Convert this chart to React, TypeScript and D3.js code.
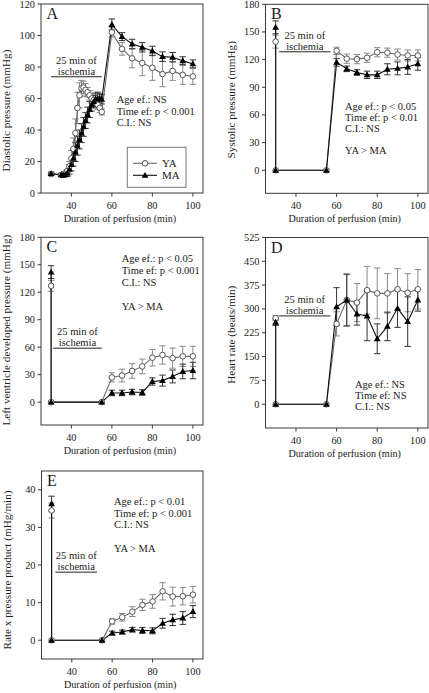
import React from 'react';
import * as d3 from 'd3';

// ---------- data ----------
const timeA = [30, 35, 36, 37, 38, 39, 40, 41, 42, 43, 44, 45, 46, 47, 48, 49, 50, 51, 52, 53, 54, 55, 60, 65, 70, 75, 80, 85, 90, 95, 100];
const diaYA = [12, 11.5, 12, 12.5, 14, 17, 22, 28, 38, 54, 62, 66.5, 67, 65.5, 64, 62, 60, 59, 57.5, 56, 54, 51.5, 102, 91.5, 85.5, 82.5, 79.5, 75.5, 77.5, 75, 74];
const diaYAErr = [1, 1, 1, 1, 1, 3, 5, 7, 9, 10, 8, 5, 4, 4, 3, 3, 3, 3, 3, 3, 3, 2, 3, 4, 6, 8, 8, 8, 6, 6, 5];
const diaMA = [12.3, 11.5, 11.3, 11.6, 12.5, 15, 18, 22, 26, 30, 34, 38, 42, 46, 49.5, 53, 56, 58, 59.5, 60, 60, 59.5, 107, 99.3, 94.6, 92.5, 90.2, 86.6, 86.2, 84, 82];
const diaMAErr = [1, 1, 1, 1, 2, 3, 4, 5, 6, 6, 6, 6, 6, 5, 5, 5, 4, 4, 4, 4, 3, 3, 3.5, 2.5, 3, 3, 3, 3, 3, 2.5, 2.5];

const timeR = [30, 30, 55, 60, 65, 70, 75, 80, 85, 90, 95, 100];
const sysYA = [139.5, 0, 0, 129.5, 121, 120.5, 122, 128, 127.5, 125.5, 124.5, 124.5];
const sysYAErr = [7, 0, 0, 4, 5, 5, 5, 5, 5, 6, 6, 6];
const sysMA = [155, 0, 0, 117, 110, 106, 103.5, 103.5, 109.5, 110.5, 112, 115.5];
const sysMAErr = [7, 0, 0, 4, 3, 3, 4, 4, 6, 7, 8, 7];

const lvdpYA = [127, 0, 0, 27, 29, 34, 39, 48.5, 51.5, 48, 50, 50];
const lvdpYAErr = [6, 0, 0, 5, 7, 8, 8, 9, 10, 11, 11, 11];
const lvdpMA = [142, 0, 0, 10, 10, 11, 10.5, 22.5, 23.5, 28, 33.5, 34.5];
const lvdpMAErr = [7, 0, 0, 3, 3, 3, 3, 4, 6, 7, 8, 9];

const hrYA = [271, 0, 0, 253, 328, 320, 359, 349, 349, 362, 351, 362];
const hrYAErr = [8, 0, 0, 38, 80, 60, 75, 80, 62, 65, 60, 62];
const hrMA = [258, 0, 0, 307, 328, 284, 278, 206, 245, 302, 260, 328];
const hrMAErr = [10, 0, 0, 60, 82, 35, 78, 47, 45, 60, 78, 35];

const rppYA = [34.5, 0, 0, 5, 6.1, 7.6, 9.4, 10.3, 13, 11.6, 11.7, 12.1];
const rppYAErr = [2, 0, 0, 0.7, 1, 1.3, 1.5, 1.8, 2.3, 2.5, 2.3, 2.2];
const rppMA = [36.3, 0, 0, 1.9, 2.2, 2.8, 2.6, 2.5, 4.5, 5.4, 5.9, 7.6];
const rppMAErr = [2, 0, 0, 0.5, 0.5, 0.6, 0.8, 0.8, 1.3, 1.5, 1.7, 1.6];

const xTicks = [40, 60, 80, 100];
const yTicksA = [0, 20, 40, 60, 80, 100, 120];
const yTicksB = [0, 30, 60, 90, 120, 150, 180];
const yTicksC = [0, 30, 60, 90, 120, 150, 180];
const yTicksD = [0, 75, 150, 225, 300, 375, 450, 525];
const yTicksE = [0, 10, 20, 30, 40];

const statsA = ['Age ef.: NS', 'Time ef: p < 0.001', 'C.I.: NS'];
const statsB = ['Age ef.: p < 0.05', 'Time ef: p < 0.01', 'C.I.: NS', '', 'YA > MA'];
const statsC = ['Age ef.: p < 0.05', 'Time ef: p < 0.001', 'C.I.: NS', '', 'YA > MA'];
const statsD = ['Age ef.: NS', 'Time ef: NS', 'C.I.: NS'];
const statsE = ['Age ef.: p < 0.01', 'Time ef: p < 0.001', 'C.I.: NS', '', 'YA > MA'];

const ischemiaText = ['25 min of', 'ischemia'];
const legendLabels = ['YA', 'MA'];

// ---------- styling ----------
const FONT = "'Liberation Serif', 'Times New Roman', Times, serif";
const TXT = '#1a1a1a';
const FRAME = '#3a3a3a';
const YA_LINE = '#6a6a6a';
const YA_ERR = '#8a8a8a';
const MA_LINE = '#111';
const MA_ERR = '#333';

type PanelCfg = {
  letter: string;
  ylabel: string;
  ylabelShift: number;
  left: number; right: number; top: number; bottom: number;
  yDomain: [number, number];
  yTicks: number[];
  time: number[];
  ya: number[]; yaErr: number[];
  ma: number[]; maErr: number[];
  stats: string[];
  statsX: number; statsY: number; statsGap: number;
  isch: [number, number, number];
  legend?: boolean;
};

const triangle = d3.symbol().type(d3.symbolTriangle).size(20)();

function Panel({ c }: { c: PanelCfg }) {
  const x = d3.scaleLinear().domain([25, 105]).range([c.left, c.right]);
  const y = d3.scaleLinear().domain(c.yDomain).range([c.bottom, c.top]);
  const idx = d3.range(c.time.length);
  const lineOf = (vals: number[]) =>
    d3.line<number>().x((i) => x(c.time[i])).y((i) => y(vals[i]))(idx) || '';
  const cx = (c.left + c.right) / 2;
  const cy = (c.top + c.bottom) / 2 + c.ylabelShift;
  const errBars = (vals: number[], errs: number[], color: string) =>
    idx.filter((i) => errs[i] > 0).map((i) => {
      const px = x(c.time[i]);
      const y1 = y(vals[i] + errs[i]);
      const y2 = y(vals[i] - errs[i]);
      return (
        <g key={'e' + i} stroke={color} strokeWidth={1}>
          <line x1={px} x2={px} y1={y1} y2={y2} />
          <line x1={px - 3.2} x2={px + 3.2} y1={y1} y2={y1} />
          <line x1={px - 3.2} x2={px + 3.2} y1={y2} y2={y2} />
        </g>
      );
    });
  const [ix1, ix2, iy] = c.isch;
  const ischX = (x(ix1) + x(ix2)) / 2;
  return (
    <g style={{ fontFamily: FONT }} fill={TXT}>
      <rect x={c.left} y={c.top} width={c.right - c.left} height={c.bottom - c.top} fill="none" stroke={FRAME} strokeWidth={1} />
      {c.yTicks.map((t) => (
        <g key={'y' + t}>
          <line x1={c.left - 3.5} x2={c.left} y1={y(t)} y2={y(t)} stroke={FRAME} />
          <text x={c.left - 6} y={y(t)} dy="0.34em" textAnchor="end" fontSize={10.3}>{t}</text>
        </g>
      ))}
      {xTicks.map((t) => (
        <g key={'x' + t}>
          <line x1={x(t)} x2={x(t)} y1={c.bottom} y2={c.bottom + 3.5} stroke={FRAME} />
          <text x={x(t)} y={c.bottom + 16} textAnchor="middle" fontSize={10.3}>{t}</text>
        </g>
      ))}
      <text x={cx - 2} y={c.bottom + 29} textAnchor="middle" fontSize={10.1}>Duration of perfusion (min)</text>
      <text transform={`translate(${c.left - 31},${cy}) rotate(-90)`} textAnchor="middle" fontSize={11.2}>{c.ylabel}</text>
      <text x={c.left + 5.5} y={c.top + 15} fontSize={16}>{c.letter}</text>
      <line x1={x(ix1)} x2={x(ix2)} y1={y(iy)} y2={y(iy)} stroke="#222" strokeWidth={1} />
      <text x={ischX} y={y(iy) - 13} textAnchor="middle" fontSize={10.5}>{ischemiaText[0]}</text>
      <text x={ischX} y={y(iy) - 2} textAnchor="middle" fontSize={10.5}>{ischemiaText[1]}</text>
      {c.stats.map((s, i) => (
        <text key={'s' + i} x={c.left + c.statsX} y={c.top + c.statsY + i * c.statsGap} fontSize={10.5}>{s}</text>
      ))}
      {errBars(c.ya, c.yaErr, YA_ERR)}
      {errBars(c.ma, c.maErr, MA_ERR)}
      <path d={lineOf(c.ya)} fill="none" stroke={YA_LINE} strokeWidth={1.1} />
      <path d={lineOf(c.ma)} fill="none" stroke={MA_LINE} strokeWidth={1.1} />
      {idx.map((i) => (
        <circle key={'c' + i} cx={x(c.time[i])} cy={y(c.ya[i])} r={2.8} fill="#fff" stroke="#444" strokeWidth={0.9} />
      ))}
      {idx.map((i) => (
        <path key={'t' + i} d={triangle} transform={`translate(${x(c.time[i])},${y(c.ma[i]) + 0.5})`} fill="#000" />
      ))}
      {c.legend && (
        <g>
          <rect x={127.3} y={147.3} width={58.7} height={40} fill="#fff" stroke="#777" strokeWidth={1} />
          <line x1={133} x2={157} y1={163.3} y2={163.3} stroke={YA_LINE} strokeWidth={1.1} />
          <circle cx={145} cy={163.3} r={2.8} fill="#fff" stroke="#444" strokeWidth={0.9} />
          <text x={162} y={167} fontSize={11}>{legendLabels[0]}</text>
          <line x1={133} x2={157} y1={175.3} y2={175.3} stroke={MA_LINE} strokeWidth={1.1} />
          <path d={triangle} transform={`translate(145,175.8)`} fill="#000" />
          <text x={162} y={179} fontSize={11}>{legendLabels[1]}</text>
        </g>
      )}
    </g>
  );
}

const panels: PanelCfg[] = [
  {
    letter: 'A', ylabel: 'Diastolic pressure (mmHg)', ylabelShift: 12,
    left: 41, right: 203, top: 4, bottom: 193, yDomain: [0, 120], yTicks: yTicksA,
    time: timeA, ya: diaYA, yaErr: diaYAErr, ma: diaMA, maErr: diaMAErr,
    stats: statsA, statsX: 75.7, statsY: 99, statsGap: 11.5,
    isch: [30, 55, 73.8], legend: true,
  },
  {
    letter: 'B', ylabel: 'Systolic pressure (mmHg)', ylabelShift: 1,
    left: 265.5, right: 428, top: 4.3, bottom: 193.3, yDomain: [-25, 180], yTicks: yTicksB,
    time: timeR, ya: sysYA, yaErr: sysYAErr, ma: sysMA, maErr: sysMAErr,
    stats: statsB, statsX: 79.5, statsY: 106, statsGap: 10.9,
    isch: [31.7, 57, 128.5],
  },
  {
    letter: 'C', ylabel: 'Left ventricle developed pressure (mmHg)', ylabelShift: -1,
    left: 41, right: 203, top: 237.3, bottom: 425, yDomain: [-25, 180], yTicks: yTicksC,
    time: timeR, ya: lvdpYA, yaErr: lvdpYAErr, ma: lvdpMA, maErr: lvdpMAErr,
    stats: statsC, statsX: 80.7, statsY: 24.7, statsGap: 12,
    isch: [31, 55, 58.9],
  },
  {
    letter: 'D', ylabel: 'Heart rate (beats/min)', ylabelShift: 2,
    left: 265.5, right: 428, top: 237.5, bottom: 428, yDomain: [-75, 525], yTicks: yTicksD,
    time: timeR, ya: hrYA, yaErr: hrYAErr, ma: hrMA, maErr: hrMAErr,
    stats: statsD, statsX: 89.5, statsY: 150.5, statsGap: 10.8,
    isch: [31.7, 56.9, 278],
  },
  {
    letter: 'E', ylabel: 'Rate x pressure product (mHg/min)', ylabelShift: 5,
    left: 41.5, right: 203, top: 471, bottom: 659, yDomain: [-5, 45], yTicks: yTicksE,
    time: timeR, ya: rppYA, yaErr: rppYAErr, ma: rppMA, maErr: rppMAErr,
    stats: statsE, statsX: 72.5, statsY: 34, statsGap: 11.7,
    isch: [31.9, 52.5, 18.1],
  },
];

export default function App() {
  return (
    <svg width={429} height={693} style={{ position: 'absolute', left: 0, top: 0, background: '#fff' }}>
      <rect x={0} y={0} width={429} height={693} fill="#fff" />
      {panels.map((c) => <Panel key={c.letter} c={c} />)}
    </svg>
  );
}
